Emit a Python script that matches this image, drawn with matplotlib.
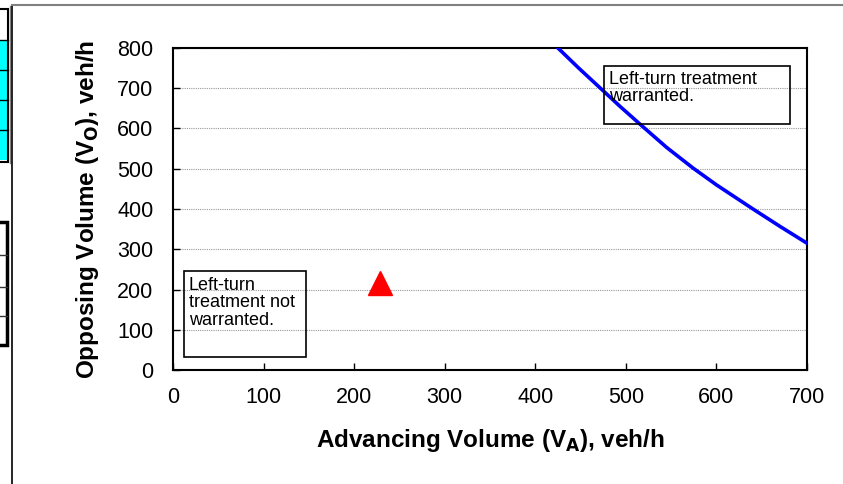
import matplotlib.pyplot as plt
from matplotlib.patches import Rectangle
from matplotlib.lines import Line2D

plt.rcParams['font.family'] = ['Liberation Sans', 'DejaVu Sans']

# warrant curve (advancing vs opposing volume)
curve_va = [425, 448, 471, 494, 517, 545, 574, 600, 639, 670, 700]
curve_vo = [800, 750, 702, 654, 608, 553, 502, 460, 402, 357, 315]

# observed point
point_va = [228]
point_vo = [215]

x_ticks = [0, 100, 200, 300, 400, 500, 600, 700]
y_ticks = [0, 100, 200, 300, 400, 500, 600, 700, 800]

fig = plt.figure(figsize=(8.43, 4.84), dpi=100)
W, H = 843, 484

# spreadsheet border bits around the chart object
def px_rect(x0, y0, x1, y1, **kw):
    fig.patches.append(Rectangle((x0 / W, 1 - y1 / H), (x1 - x0) / W, (y1 - y0) / H,
                                 transform=fig.transFigure, **kw))

def px_line(xs, ys, **kw):
    fig.lines.append(Line2D([x / W for x in xs], [1 - y / H for y in ys],
                            transform=fig.transFigure, **kw))

px_rect(-2, 40, 8, 160, facecolor='#00ffff', edgecolor='none')
px_rect(-2, 9, 8, 162, facecolor='none', edgecolor='black', linewidth=1.5)
for yy in [40, 70, 100, 130]:
    px_line([0, 8], [yy, yy], color='black', linewidth=1)
px_line([9.5, 9.5], [6, 163], color='#808080', linewidth=1)
px_rect(-2, 222, 7, 345, facecolor='none', edgecolor='black', linewidth=2.5)
for yy in [255, 287, 316]:
    px_line([0, 7], [yy, yy], color='#333333', linewidth=1)
px_line([11.5, 11.5], [5, 484], color='black', linewidth=1.2)
px_line([12, 843], [5, 5], color='#808080', linewidth=1.5)

ax = fig.add_axes([173 / W, 1 - 370 / H, 634 / W, 322 / H])

ax.plot(curve_va, curve_vo, color='#0000ff', linewidth=2.6, zorder=3,
        solid_joinstyle='round')
ax.plot(point_va, point_vo, marker='^', color='red', markersize=17,
        linestyle='none', zorder=4)

ax.set_xlim(0, 700)
ax.set_ylim(0, 800)
ax.set_xticks(x_ticks)
ax.set_yticks(y_ticks)
ax.yaxis.grid(True, color='#999999', linestyle=(0, (1, 1)), linewidth=0.8)
ax.set_axisbelow(True)
ax.tick_params(direction='in', length=5, width=1, labelsize=15.5)
ax.tick_params(axis='x', pad=12)
ax.tick_params(axis='y', pad=14)
for s in ax.spines.values():
    s.set_linewidth(1.5)
    s.set_color('black')

ax.set_xlabel('Advancing Volume (V$_\\mathbf{A}$), veh/h', fontsize=17.5,
              fontweight='bold', labelpad=14)
ax.set_ylabel('Opposing Volume (V$_\\mathbf{O}$), veh/h', fontsize=17.5,
              fontweight='bold', labelpad=12)

# note boxes
ax.add_patch(Rectangle((0.680, 0.764), 0.293, 0.180, transform=ax.transAxes,
                       facecolor='none', edgecolor='black', linewidth=1.2, zorder=5))
ax.text(0.688, 0.930, 'Left-turn treatment\nwarranted.', transform=ax.transAxes,
        fontsize=13, va='top', ha='left', linespacing=1.05, zorder=5)

ax.add_patch(Rectangle((0.0174, 0.040), 0.1924, 0.267, transform=ax.transAxes,
                       facecolor='none', edgecolor='black', linewidth=1.2, zorder=5))
ax.text(0.025, 0.290, 'Left-turn\ntreatment not\nwarranted.', transform=ax.transAxes,
        fontsize=13, va='top', ha='left', linespacing=1.05, zorder=5)

fig.savefig('out.png', dpi=100)
